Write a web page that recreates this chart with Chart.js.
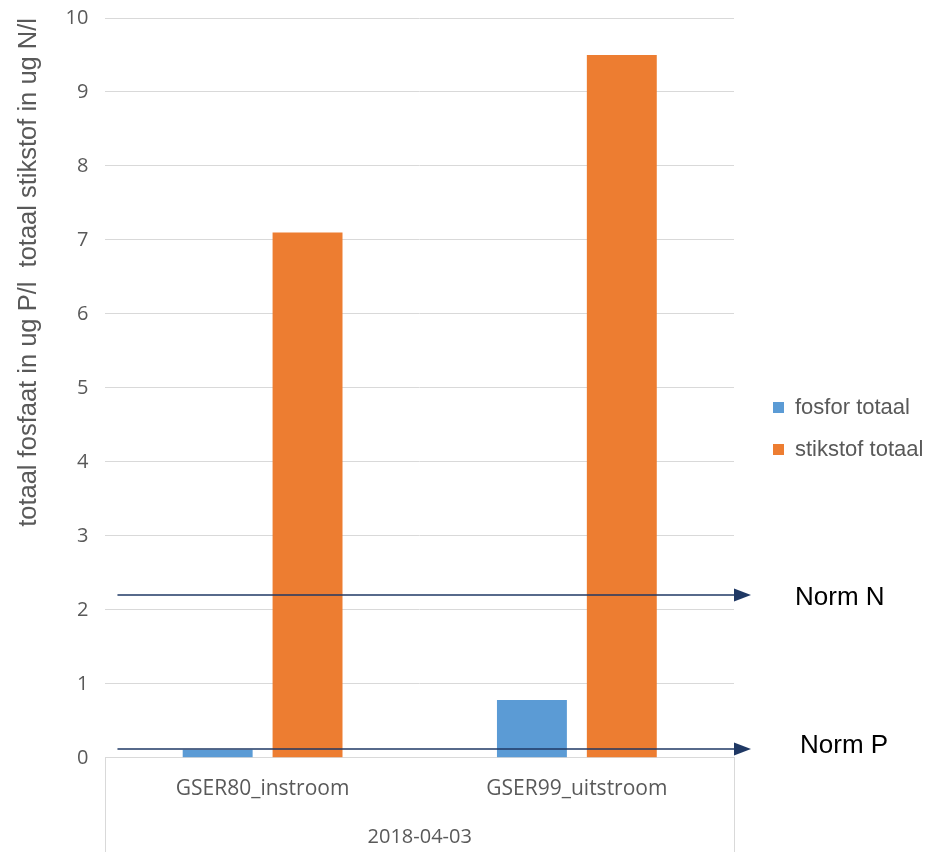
<!DOCTYPE html>
<html lang="nl">
  <head>
    <meta charset="UTF-8" />
    <title>Fosfor en stikstof totaal</title>
    <style>
      body {
        margin: 0;
        padding: 0;
        background: #fff;
      }
      #chart-box {
        width: 934px;
        height: 852px;
      }
    </style>
  </head>
  <body>
    <div id="chart-box"><canvas id="normChart"></canvas></div>

    <script src="https://cdn.jsdelivr.net/npm/chart.js"></script>
    <script>
      // meetpunten en waarden
      const categories = ["GSER80_instroom", "GSER99_uitstroom"];
      const fosforTotaal = [0.11, 0.78];
      const stikstofTotaal = [7.1, 9.5];
      const sampleDate = "2018-04-03";
      const yTicks = [0, 1, 2, 3, 4, 5, 6, 7, 8, 9, 10];
      const normLabels = ["Norm N", "Norm P"];
      const normValues = [2.2, 0.12];

      const textGrey = "#595959";
      const gridGrey = "#d9d9d9";
      const arrowBlue = "#1f3864";

      // legend a bit wider so the plot stops where the reference does
      const legendWidth = {
        id: "legendWidth",
        beforeInit(chart) {
          const fit = chart.legend.fit;
          chart.legend.fit = function () {
            fit.call(this);
            this.width = 200;
          };
        },
        afterLayout(chart) {
          chart.legend.left += 19;
          chart.legend.right += 19;
          chart.legend.top += 4;
          chart.legend.bottom += 4;
        },
      };

      // norm lines with arrow heads and their labels
      const normArrows = {
        id: "normArrows",
        afterDatasetsDraw(chart) {
          const { ctx, chartArea } = chart;
          const y = chart.scales.y;
          ctx.save();
          normValues.forEach((val, i) => {
            const py = y.getPixelForValue(val);
            const x0 = chartArea.left + 12;
            const tip = chartArea.right + 17;
            ctx.strokeStyle = arrowBlue;
            ctx.fillStyle = arrowBlue;
            ctx.lineWidth = 1.5;
            ctx.beginPath();
            ctx.moveTo(x0, py);
            ctx.lineTo(tip - 14, py);
            ctx.stroke();
            ctx.beginPath();
            ctx.moveTo(tip, py);
            ctx.lineTo(tip - 17, py - 6.5);
            ctx.lineTo(tip - 17, py + 6.5);
            ctx.closePath();
            ctx.fill();

            ctx.fillStyle = "#000";
            ctx.font = '26px "Liberation Sans", Arial, sans-serif';
            ctx.textBaseline = "middle";
            ctx.textAlign = "left";
            if (i === 0) ctx.fillText(normLabels[i], chartArea.right + 61, py + 3);
            else ctx.fillText(normLabels[i], chartArea.right + 66, py - 3);
          });
          ctx.restore();
        },
      };

      // side lines of the category box under the axis
      const categoryBox = {
        id: "categoryBox",
        afterDraw(chart) {
          const { ctx, chartArea } = chart;
          ctx.save();
          ctx.strokeStyle = gridGrey;
          ctx.lineWidth = 1;
          [chartArea.left, chartArea.right].forEach((x) => {
            ctx.beginPath();
            ctx.moveTo(Math.round(x) + 0.5, chartArea.bottom);
            ctx.lineTo(Math.round(x) + 0.5, chart.height);
            ctx.stroke();
          });
          ctx.restore();
        },
      };

      const ctx = document.getElementById("normChart").getContext("2d");
      new Chart(ctx, {
        type: "bar",
        data: {
          labels: categories,
          datasets: [
            {
              label: "fosfor totaal",
              data: fosforTotaal,
              backgroundColor: "#5b9bd5",
            },
            {
              label: "stikstof totaal",
              data: stikstofTotaal,
              backgroundColor: "#ed7d31",
            },
          ],
        },
        options: {
          responsive: true,
          maintainAspectRatio: false,
          animation: false,
          categoryPercentage: 0.572,
          barPercentage: 0.778,
          layout: {
            padding: { top: 0, right: 0, bottom: 3, left: 14 },
          },
          plugins: {
            tooltip: { enabled: false },
            legend: {
              position: "right",
              labels: {
                boxWidth: 11,
                boxHeight: 11,
                padding: 20,
                color: textGrey,
                font: { family: '"Liberation Sans", Arial, sans-serif', size: 22 },
              },
            },
          },
          scales: {
            x: {
              grid: { display: false, drawTicks: false },
              border: { display: true, color: gridGrey },
              ticks: {
                color: textGrey,
                padding: 19,
                font: { family: '"Open Sans", sans-serif', size: 21 },
              },
              title: {
                display: true,
                text: sampleDate,
                color: textGrey,
                padding: { top: 4, bottom: 0 },
                font: { family: '"Open Sans", sans-serif', size: 20 },
              },
            },
            y: {
              min: 0,
              max: 10,
              afterBuildTicks: (scale) => {
                scale.ticks = yTicks.map((v) => ({ value: v }));
              },
              afterFit: (scale) => {
                scale.paddingTop = 18;
              },
              grid: { color: gridGrey, drawTicks: false },
              border: { display: false },
              ticks: {
                color: textGrey,
                padding: 17,
                font: { family: '"Open Sans", sans-serif', size: 20 },
              },
              title: {
                display: true,
                align: "end",
                text: "totaal fosfaat in ug P/l  totaal stikstof in ug N/l",
                color: textGrey,
                padding: { top: 0, bottom: 4 },
                font: { family: '"Liberation Sans", Arial, sans-serif', size: 25.5 },
              },
            },
          },
        },
        plugins: [legendWidth, normArrows, categoryBox],
      });
    </script>
  </body>
</html>
